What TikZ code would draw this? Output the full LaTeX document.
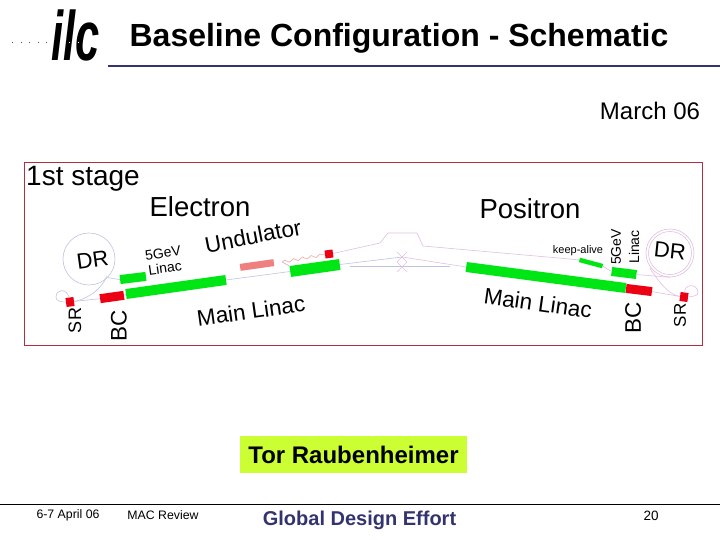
\documentclass[tikz,border=0pt]{standalone}
\usepackage{fontspec}
\setmainfont{Liberation Sans}
\usetikzlibrary{calc,decorations.pathmorphing}
\definecolor{navy}{RGB}{51,51,112}
\definecolor{frame}{RGB}{176,48,64}
\definecolor{lime}{RGB}{204,255,51}
\definecolor{linacgreen}{RGB}{0,230,20}
\definecolor{magred}{RGB}{235,0,20}
\definecolor{salmon}{RGB}{240,128,128}
\definecolor{beamblue}{RGB}{190,195,225}
\definecolor{beampink}{RGB}{225,190,225}
\tikzset{
  lbl/.style={inner sep=0pt,font=\fontsize{#1}{#1}\selectfont},
  lbl/.default=24,
  linac/.style={fill=linacgreen,inner sep=0pt,minimum height=#1},
  linac/.default=10,
  mag/.style={fill=magred,inner sep=0pt,minimum height=#1},
  mag/.default=9,
  beam/.style={draw=#1,line width=0.6pt},
  beam/.default=beamblue,
  ring/.style={circle,draw=#1,line width=0.6pt,inner sep=0pt},
}
\begin{document}
\begin{tikzpicture}[x=1pt,y=-1pt]
  \useasboundingbox (0,0) rectangle (720,540);
  % logo and title
  \node[inner sep=0pt,font=\fontsize{70}{70}\selectfont\bfseries\itshape,xscale=0.62] (logo) at (75.5,35) {ilc};
  \coordinate (dotsL) at (12,42);
  \coordinate (dotsM) at (52,42);
  \coordinate (dotsR) at (96,42);
  \draw[black!70,line width=0.8pt,dash pattern=on 1pt off 7.5pt] (dotsL) -- (dotsM);
  \draw[white,line width=0.8pt,dash pattern=on 1pt off 7.5pt] (dotsM) -- (dotsR);
  \node[lbl=32] (title) at (399,38) {\textbf{Baseline Configuration - Schematic}};
  \coordinate (ruleL) at (108,66);
  \coordinate (ruleR) at (720,66);
  \draw[navy,line width=1.5pt] (ruleL) -- (ruleR);
  \node[lbl=24] (date) at (650,111) {March 06};
  % stage frame
  \node[draw=frame,line width=0.9pt,inner sep=0pt,minimum width=678pt,minimum height=183pt] (stage) at (363.5,253.5) {};
  \node[lbl=28] (stagetxt) at (83,178.5) {1st stage};
  \node[lbl=27.5] (electron) at (200,207) {Electron};
  \node[lbl=27.5] (positron) at (530,209) {Positron};
  % electron side
  \node[ring=beamblue,minimum size=52pt] (drE) at (89,259) {};
  \node[lbl=22,rotate=8] (drEtxt) at (92.5,260) {DR};
  \node[linac=9,minimum width=26pt,rotate=7] (injE) at (133,278) {};
  \node[linac,minimum width=101pt,rotate=8] (mainE) at (176,287) {};
  \node[mag,minimum width=24pt,rotate=8] (bcE) at (112,297) {};
  \node[mag,minimum width=8pt,rotate=8] (srE) at (70,302) {};
  \node[fill=salmon,inner sep=0pt,minimum width=34pt,minimum height=7pt,rotate=8] (undE) at (257,265) {};
  \node[mag=8,minimum width=8pt,rotate=8] (magE) at (329,254) {};
  \node[linac=11,minimum width=50pt,rotate=8] (mainE2) at (315,268) {};
  \node[lbl=18,rotate=90] (srEtxt) at (75,320.5) {SR};
  \node[lbl=22.5,rotate=90] (bcEtxt) at (119,326) {BC};
  \node[lbl=14,rotate=8] (gevE) at (163,253) {5GeV};
  \node[lbl=14,rotate=8] (linE) at (165,268) {Linac};
  \node[lbl=22.5,rotate=11] (undtxt) at (253,236) {Undulator};
  \node[lbl=22.5,rotate=8] (mainEtxt) at (251,311) {Main Linac};
  % positron side
  \node[ring=beampink,minimum size=48pt] (drP) at (670,253) {};
  \node[ring=beampink,minimum size=43pt] (drPin) at (670,253) {};
  \node[lbl=22,rotate=-6] (drPtxt) at (670,251) {DR};
  \node[linac,minimum width=161pt,rotate=-7.5] (mainP) at (546,277.5) {};
  \node[mag,minimum width=26pt,rotate=-7] (bcP) at (639,290) {};
  \node[linac=9,minimum width=25pt,rotate=-7] (injP) at (624,273) {};
  \node[linac=4.5,minimum width=24pt,rotate=-15] (keep) at (591,263) {};
  \node[mag,minimum width=8pt,rotate=-8] (srP) at (684,297) {};
  \node[lbl=11] (keeptxt) at (578,250.5) {keep-alive};
  \node[lbl=14,rotate=90] (gevP) at (616,247) {5GeV};
  \node[lbl=14,rotate=90] (linP) at (634,247) {Linac};
  \node[lbl=22.5,rotate=-8] (mainPtxt) at (538,303) {Main Linac};
  \node[lbl=22.5,rotate=90] (bcPtxt) at (633,318) {BC};
  \node[lbl=17,rotate=90] (srPtxt) at (680,315.5) {SR};
  % beam lines
  \coordinate (uStart) at (282,262);
  \coordinate (bumpA) at (380,243);
  \coordinate (bumpB) at (388,233);
  \coordinate (bumpC) at (417,233);
  \coordinate (bumpD) at (423,246);
  \coordinate (ipA) at (402,257);
  \coordinate (ipB) at (402,267);
  \coordinate (ipLine) at (350,266);
  \coordinate (ipLineR) at (450,266);
  \draw[beam] (bcE.east) -- (mainE.west);
  \draw[beam] (srE.east) -- (bcE.west);
  \draw[beam] (mainE.east) -- (mainE2.west);
  \draw[beam] (drE.south east) -- (injE.west);
  \draw[beam] (srE.north) .. controls (66,288) and (56,289) .. (56,297) .. controls (56,301) and (60,302) .. (66,302);
  \draw[beam] (srE.east) .. controls (84,300) and (100,292) .. (107,276);
  \draw[beam=beamblue!70!salmon] (uStart) -- (mainE2.north west);
  \draw[beam=salmon!70,decorate,decoration={snake,amplitude=1.4pt,segment length=9pt}] (uStart) -- (magE.west);
  \draw[beam=beampink] (magE.east) -- (bumpA) -- (bumpB) -- (bumpC) -- (bumpD) -- (keep.west);
  \draw[beam] (mainE2.east) -- (ipA);
  \draw[beam=beampink] (ipA) -- (mainP.west);
  \draw[beam] (ipLine) -- (ipLineR);
  \draw[beam=beampink] ($(ipA)+(-5,-5)$) -- ($(ipA)+(5,5)$) ($(ipA)+(5,-5)$) -- ($(ipA)+(-5,5)$);
  \draw[beam=beampink] ($(ipB)+(-5,-5)$) -- ($(ipB)+(5,5)$) ($(ipB)+(5,-5)$) -- ($(ipB)+(-5,5)$);
  \draw[beam=beampink] (keep.east) -- (injP.west);
  \draw[beam=beampink] (bcP.east) -- (srP.west);
  \draw[beam=beampink] (injP.east) -- (drP.south);
  \draw[beam=beampink] (srP.west) .. controls (672,296) and (660,285) .. (650,268);
  \draw[beam=beampink] (srP.north) .. controls (684,284) and (697,283) .. (698,292) .. controls (698,296) and (694,296) .. (689,297);
  % speaker and footer
  \node[fill=lime,minimum width=227pt,minimum height=37pt,inner sep=0pt,font=\fontsize{24}{24}\selectfont\bfseries] (speaker) at (353.5,454.5) {Tor Raubenheimer};
  \coordinate (footL) at (0,504);
  \coordinate (footR) at (720,504);
  \draw[black,line width=0.9pt] (footL) -- (footR);
  \node[lbl=12.3] (when) at (68,515) {6-7 April 06};
  \node[lbl=12.3] (what) at (163,515) {MAC Review};
  \node[lbl=20,text=navy] (gde) at (359.5,520) {\textbf{Global Design Effort}};
  \node[lbl=13.5] (page) at (651,516) {20};
\end{tikzpicture}
\end{document}
